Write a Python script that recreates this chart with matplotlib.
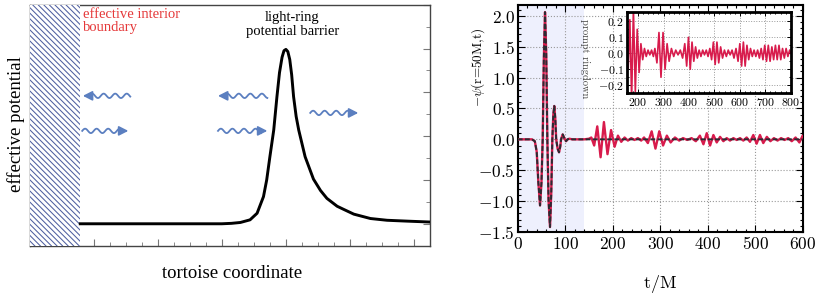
import numpy as np
import matplotlib.pyplot as plt
from matplotlib.ticker import MultipleLocator, FuncFormatter

plt.rcParams['mathtext.fontset'] = 'cm'
plt.rcParams['hatch.linewidth'] = 0.75
plt.rcParams['hatch.color'] = '#4f5fa0'

# ---- left panel: effective potential vs tortoise coordinate
wall_edge = 0.79
pot_x = [0.79, 3.0, 3.15, 3.29, 3.44, 3.55, 3.65, 3.70, 3.75, 3.81, 3.86, 3.90, 3.94, 3.97,
         4.00, 4.03, 4.06, 4.09, 4.12, 4.16, 4.20, 4.30, 4.43, 4.54, 4.64, 4.80, 4.90,
         5.06, 5.32, 5.58, 5.90, 6.25]
pot_y = [0.0, 0.0, 0.01, 0.03, 0.09, 0.24, 0.62, 1.0, 1.53, 2.14, 2.90, 3.45, 3.80, 3.95,
         3.98, 3.93, 3.75, 3.40, 2.90, 2.45, 2.14, 1.53, 1.02, 0.76, 0.58, 0.40, 0.33,
         0.22, 0.12, 0.08, 0.06, 0.04]

# wavy arrows: (x_start, x_end, y, direction)
arrows_x0 = [0.83, 0.82, 2.94, 2.94, 4.38]
arrows_x1 = [1.57, 1.54, 3.71, 3.71, 5.13]
arrows_y = [2.92, 2.12, 2.92, 2.12, 2.53]
arrows_dir = ['left', 'right', 'left', 'right', 'right']

# ---- right panel: waveform -psi(r=50M, t)
prompt_t = [0, 30, 36, 40, 43.5, 47, 50, 52.6, 55, 57.5, 60, 62.4, 65, 68, 70.5,
            72.9, 75, 77, 79, 81, 84, 87, 89.5, 91.3, 94.7, 98, 101.7, 105, 108.7, 115, 140]
prompt_v = [0, 0, -0.03, -0.2, -0.7, -1.07, -0.7, 0, 1.3, 2.06, 1.4, 0, -1.0, -1.42, -0.9,
            0, 0.4, 0.54, 0.35, 0, -0.15, -0.21, -0.12, 0, 0.08, 0.02, -0.03, 0, 0.01, 0, 0]

echo_t = [150, 155, 161, 167.5, 174.5, 181.5, 189, 196.5, 204, 211, 218, 225, 232, 239,
          246, 253, 260, 266, 274, 282, 290, 298, 306, 314, 322, 331, 340, 348, 357,
          366, 375, 383.5, 391, 398, 405, 412, 419, 426, 433, 440, 447, 454, 461, 468,
          475, 482, 489, 496, 503, 510, 517, 524.5, 532, 539.5, 547, 554.5, 562, 569.5,
          577, 585, 593, 600, 607, 614, 621, 628, 635, 642, 649, 656, 663, 670, 677,
          684, 691, 698, 705, 712, 719, 726, 733, 740, 747, 754, 761, 768, 775, 782,
          789, 796, 800]
echo_v = [0.01, 0.03, -0.1, 0.21, -0.29, 0.28, -0.24, 0.15, -0.12, 0.06, -0.04, 0.03, -0.02, 0.02,
          -0.01, 0.02, -0.02, 0.03, -0.06, 0.13, -0.15, 0.13, -0.1, 0.06, -0.05, 0.03, -0.02, 0.02, -0.01,
          0.02, -0.03, 0.06, -0.08, 0.1, -0.1, 0.07, -0.05, 0.04, -0.03, 0.02, -0.02, 0.02, -0.01, 0.02,
          -0.02, 0.03, -0.04, 0.07, -0.07, 0.07, -0.06, 0.04, -0.03, 0.02, -0.02, 0.02, -0.01, 0.02,
          -0.03, 0.03, -0.05, 0.06, -0.08, 0.07, -0.08, 0.05, -0.04, 0.03, -0.02, 0.02, -0.02, 0.02, -0.03,
          0.03, -0.04, 0.05, -0.05, 0.05, -0.05, 0.04, -0.04, 0.05, -0.04, 0.05, -0.04, 0.03, -0.03, 0.03,
          -0.02, 0.02, 0]

full_t = prompt_t + echo_t
full_v = prompt_v + echo_v
bh_t = prompt_t + [600]
bh_v = prompt_v + [0]

red = '#d81b4c'
blue = '#5b7fc0'

fig = plt.figure(figsize=(8.18, 2.99), dpi=100)

ax1 = fig.add_axes([0.0363, 0.1783, 0.4894, 0.806])
ax1.set_xlim(0, 6.25)
ax1.set_ylim(-0.5, 5)
ax1.axvspan(0, wall_edge, facecolor='white', edgecolor='#4f5fa0', hatch='\\\\\\\\\\\\', lw=0, zorder=3)
ax1.plot(pot_x, pot_y, color='black', lw=2.1, zorder=4, solid_joinstyle='round')

def wavy(ax, x0, x1, y, direction):
    head = 0.1
    if direction == 'left':
        xs = np.linspace(x0 + head, x1, 120)
        tip, tail = x0, x0 + head + 0.01
    else:
        xs = np.linspace(x0, x1 - head, 120)
        tip, tail = x1, x1 - head - 0.01
    ys = y + 0.05 * np.sin((xs - xs[0]) / 0.18 * 2 * np.pi)
    ax.plot(xs, ys, color=blue, lw=1.3, zorder=5)
    ax.annotate('', xy=(tip, y), xytext=(tail, y),
                arrowprops=dict(arrowstyle='-|>,head_length=0.55,head_width=0.28',
                                color=blue, lw=1.3, shrinkA=0, shrinkB=0), zorder=5)

for x0, x1, y, d in zip(arrows_x0, arrows_x1, arrows_y, arrows_dir):
    wavy(ax1, x0, x1, y, d)

ax1.xaxis.set_major_locator(MultipleLocator(1))
ax1.xaxis.set_minor_locator(MultipleLocator(0.25))
ax1.yaxis.set_major_locator(MultipleLocator(1))
ax1.yaxis.set_minor_locator(MultipleLocator(0.5))
ax1.tick_params(which='both', direction='in', right=True, left=True, top=False,
                labelbottom=False, labelleft=False, color='#777')
ax1.tick_params(which='major', length=5)
ax1.tick_params(which='minor', length=3)
for s in ax1.spines.values():
    s.set_color('#444')
    s.set_linewidth(1.0)

serif = 'Liberation Serif'
ax1.text(0.83, 4.93, 'effective interior\nboundary', color='#e5393a', family=serif,
         fontsize=10.5, va='top', ha='left', linespacing=1.05, zorder=6)
ax1.text(4.1, 4.85, 'light-ring\npotential barrier', color='black', family=serif,
         fontsize=10.5, va='top', ha='center', linespacing=1.05, zorder=6)
fig.text(16 / 818, 1 - 124 / 299, 'effective potential', rotation=90, family=serif,
         fontsize=13.5, ha='center', va='center')
fig.text(232 / 818, 1 - 273 / 299, 'tortoise coordinate', family=serif,
         fontsize=13.5, ha='center', va='center')

# ---- right panel
ax2 = fig.add_axes([0.6329, 0.2241, 0.3484, 0.7602])
ax2.axvspan(0, 140, color='#eef0fd', lw=0, zorder=0)
ax2.plot(full_t, full_v, color=red, lw=1.7, zorder=3)
ax2.plot(bh_t, bh_v, color='#2b2b33', lw=1.4, ls=(0, (2.5, 1.2)), zorder=4)
ax2.set_xlim(0, 600)
ax2.set_ylim(-1.5, 2.18)
ax2.xaxis.set_major_locator(MultipleLocator(100))
ax2.xaxis.set_minor_locator(MultipleLocator(20))
ax2.yaxis.set_major_locator(MultipleLocator(0.5))
ax2.yaxis.set_minor_locator(MultipleLocator(0.1))
ax2.xaxis.set_major_formatter(FuncFormatter(lambda v, p: '$%d$' % round(v)))
ax2.yaxis.set_major_formatter(FuncFormatter(lambda v, p: '$%.1f$' % v))
ax2.grid(True, ls=':', color='#999', lw=0.8)
ax2.tick_params(which='both', direction='in', top=True, right=True, labelsize=12.5, pad=2, width=0.8)
ax2.tick_params(which='major', length=5)
ax2.tick_params(which='minor', length=2.5)
for s in ax2.spines.values():
    s.set_linewidth(1.5)
ax2.text(141, 1.95, 'prompt ringdown', rotation=-90, fontsize=7.5, color='#444',
         family='cmr10', ha='center', va='top', zorder=5)
fig.text(660 / 818, 1 - 284 / 299, r'$\mathrm{t/M}$', fontsize=13, ha='center', va='center')
fig.text(478 / 818, 1 - 67 / 299, r'$-\psi$(r=50M,t)', fontsize=9.5, family='cmr10',
         rotation=90, ha='center', va='center')

# inset
ax3 = fig.add_axes([0.7661, 0.688, 0.2005, 0.2729])
ax3.plot(full_t, full_v, color=red, lw=1.2)
ax3.set_xlim(155, 800)
ax3.set_ylim(-0.25, 0.26)
ax3.xaxis.set_major_locator(MultipleLocator(100))
ax3.xaxis.set_minor_locator(MultipleLocator(20))
ax3.yaxis.set_major_locator(MultipleLocator(0.1))
ax3.yaxis.set_minor_locator(MultipleLocator(0.05))
ax3.xaxis.set_major_formatter(FuncFormatter(lambda v, p: '$%d$' % round(v)))
ax3.yaxis.set_major_formatter(FuncFormatter(lambda v, p: '$%.1f$' % v))
ax3.grid(True, ls=':', color='#999', lw=0.7)
ax3.tick_params(which='both', direction='in', top=True, right=True, labelsize=8.5, pad=2, width=0.7)
ax3.tick_params(which='major', length=3)
ax3.tick_params(which='minor', length=1.5)
for s in ax3.spines.values():
    s.set_linewidth(2)

fig.savefig('out.png', dpi=100)
